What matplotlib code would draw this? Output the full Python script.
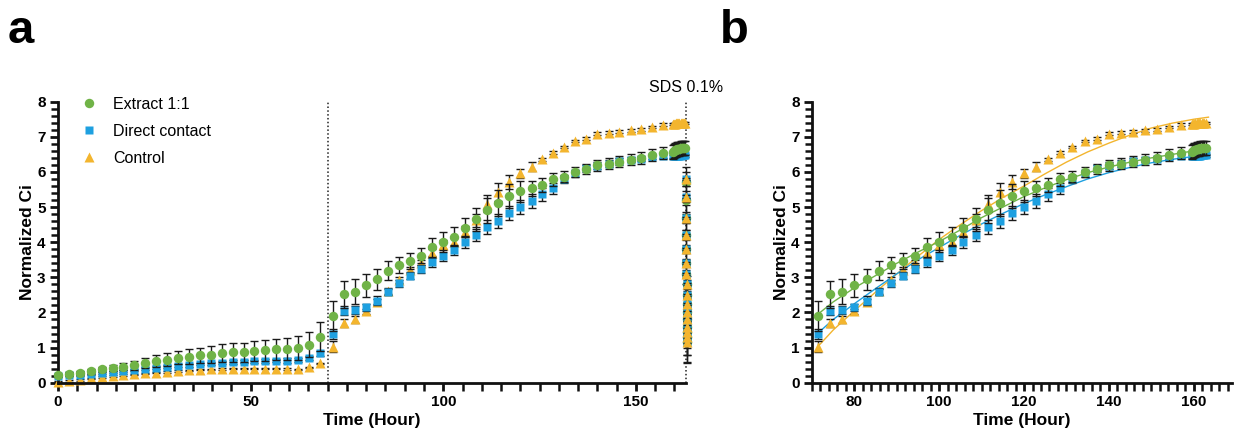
import matplotlib
matplotlib.use('Agg')
import matplotlib.pyplot as plt
from matplotlib.ticker import MultipleLocator
from matplotlib.lines import Line2D

plt.rcParams['font.family'] = ['Liberation Sans', 'DejaVu Sans']

# ---------------- data ----------------
labels = ['Extract 1:1', 'Direct contact', 'Control']
colors = ['#70b347', '#1ea0e0', '#f3b52e']
markers = ['o', 's', '^']

# before treatment (0-70 h)
time_pre = [0, 2.8, 5.7, 8.5, 11.3, 14.2, 17.0, 19.8, 22.7, 25.5, 28.3, 31.2, 34.0,
            36.8, 39.7, 42.5, 45.3, 48.2, 51.0, 53.8, 56.7, 59.5, 62.3, 65.2, 68.0]
extract_pre = [0.21, 0.25, 0.28, 0.33, 0.38, 0.42, 0.46, 0.49, 0.57, 0.62, 0.66, 0.71, 0.74,
               0.78, 0.80, 0.84, 0.86, 0.87, 0.90, 0.92, 0.95, 0.96, 0.99, 1.08, 1.31]
extract_pre_err = [0.04, 0.05, 0.06, 0.07, 0.08, 0.09, 0.11, 0.13, 0.14, 0.16, 0.18, 0.19, 0.21,
                   0.22, 0.24, 0.25, 0.26, 0.27, 0.28, 0.29, 0.30, 0.31, 0.33, 0.36, 0.41]
direct_pre = [0.19, 0.21, 0.23, 0.26, 0.29, 0.31, 0.34, 0.37, 0.40, 0.43, 0.46, 0.48, 0.50,
              0.53, 0.55, 0.57, 0.59, 0.60, 0.61, 0.62, 0.63, 0.63, 0.64, 0.70, 0.84]
direct_pre_err = [0.03, 0.03, 0.03, 0.03, 0.03, 0.03, 0.03, 0.03, 0.04, 0.04, 0.04, 0.04, 0.04,
                  0.04, 0.04, 0.05, 0.05, 0.05, 0.05, 0.05, 0.05, 0.06, 0.06, 0.06, 0.07]
control_pre = [0.03, 0.05, 0.08, 0.12, 0.16, 0.19, 0.22, 0.24, 0.27, 0.29, 0.31, 0.33, 0.35,
               0.37, 0.38, 0.39, 0.40, 0.40, 0.40, 0.40, 0.40, 0.39, 0.38, 0.44, 0.55]
control_pre_err = [0.02] * 25

# after treatment (70-163 h)
time_post = [71.4, 74.3, 77.1, 80.0, 82.9, 85.7, 88.6, 91.4, 94.3, 97.1, 100.0, 102.9, 105.7,
             108.6, 111.4, 114.3, 117.1, 120.0, 122.9, 125.7, 128.6, 131.4, 134.3, 137.1, 140.0,
             142.9, 145.7, 148.6, 151.4, 154.3, 157.1,
             159.5, 159.8, 160.1, 160.4, 160.7, 161.0, 161.3, 161.6, 161.9, 162.2, 162.5, 162.8]
extract_post = [1.90, 2.52, 2.59, 2.77, 2.95, 3.19, 3.35, 3.47, 3.62, 3.85, 4.00, 4.16, 4.41,
                4.65, 4.91, 5.12, 5.31, 5.45, 5.53, 5.64, 5.79, 5.86, 6.00, 6.08, 6.19,
                6.24, 6.29, 6.35, 6.41, 6.48, 6.54,
                6.58, 6.60, 6.62, 6.63, 6.64, 6.65, 6.66, 6.67, 6.67, 6.68, 6.68, 6.69]
extract_post_err = [0.42, 0.38, 0.35, 0.32, 0.30, 0.27, 0.24, 0.22, 0.22, 0.27, 0.28, 0.28, 0.27,
                    0.32, 0.36, 0.38, 0.35, 0.30, 0.22, 0.20, 0.18, 0.16, 0.15, 0.14, 0.15,
                    0.15, 0.15, 0.16, 0.17, 0.17, 0.18,
                    0.20, 0.20, 0.20, 0.20, 0.20, 0.20, 0.20, 0.20, 0.20, 0.20, 0.20, 0.20]
direct_post = [1.39, 2.05, 2.07, 2.15, 2.34, 2.59, 2.83, 3.05, 3.24, 3.43, 3.62, 3.78, 4.00,
               4.20, 4.44, 4.61, 4.82, 5.01, 5.18, 5.36, 5.53, 5.80, 5.96, 6.10, 6.17,
               6.24, 6.31, 6.35, 6.38, 6.43, 6.45,
               6.44, 6.44, 6.45, 6.45, 6.45, 6.46, 6.46, 6.46, 6.47, 6.47, 6.47, 6.47]
direct_post_err = [0.15, 0.13, 0.12, 0.10, 0.12, 0.10, 0.10, 0.10, 0.12, 0.13, 0.15, 0.15, 0.17,
                   0.18, 0.20, 0.20, 0.20, 0.20, 0.20, 0.18, 0.15, 0.12, 0.10, 0.10, 0.10,
                   0.10, 0.10, 0.08, 0.08, 0.07, 0.06,
                   0.05, 0.05, 0.05, 0.05, 0.05, 0.05, 0.05, 0.05, 0.05, 0.05, 0.05, 0.05]
control_post = [1.03, 1.70, 1.81, 2.03, 2.31, 2.60, 2.92, 3.20, 3.42, 3.70, 3.93, 4.00, 4.30,
                4.62, 5.10, 5.43, 5.72, 5.96, 6.15, 6.36, 6.55, 6.71, 6.88, 6.95, 7.09,
                7.12, 7.15, 7.19, 7.22, 7.28, 7.34,
                7.36, 7.37, 7.37, 7.38, 7.38, 7.38, 7.39, 7.39, 7.39, 7.40, 7.40, 7.40]
control_post_err = [0.15, 0.12, 0.10, 0.08, 0.08, 0.08, 0.08, 0.08, 0.08, 0.10, 0.12, 0.12, 0.15,
                    0.18, 0.25, 0.25, 0.20, 0.12, 0.12, 0.04, 0.04, 0.04, 0.04, 0.04, 0.04,
                    0.04, 0.04, 0.04, 0.04, 0.04, 0.04,
                    0.03, 0.03, 0.03, 0.03, 0.03, 0.03, 0.03, 0.03, 0.03, 0.03, 0.03, 0.03]

# after SDS 0.1% (163 h)
time_sds = [163.0, 163.02, 163.04, 163.06, 163.08, 163.10, 163.12, 163.14,
            163.16, 163.18, 163.20, 163.22, 163.24, 163.26, 163.28, 163.30]
extract_sds = [5.7, 5.2, 4.7, 4.2, 3.8, 3.4, 3.1, 2.8, 2.5, 2.25, 2.0, 1.8, 1.6, 1.45, 1.3, 1.15]
extract_sds_err = [0.45, 0.40, 0.35, 0.35, 0.30, 0.30, 0.30, 0.25, 0.25, 0.25, 0.30, 0.35,
                   0.40, 0.45, 0.50, 0.55]
direct_sds = [5.8, 5.3, 4.7, 4.2, 3.8, 3.4, 3.1, 2.8, 2.5, 2.25, 2.0, 1.8, 1.6, 1.45, 1.3, 1.15]
direct_sds_err = [0.20, 0.15, 0.15, 0.15, 0.12, 0.12, 0.12, 0.12, 0.12, 0.15, 0.20, 0.25,
                  0.30, 0.40, 0.50, 0.58]
control_sds = [5.8, 5.3, 4.7, 4.2, 3.8, 3.4, 3.1, 2.8, 2.5, 2.25, 2.0, 1.8, 1.6, 1.45, 1.3, 1.15]
control_sds_err = [0.03] * 16

# fitted curves shown in panel b
fit_time = [71.4, 75, 80, 85, 90, 95, 100, 105, 110, 115, 120, 125, 130, 135, 140, 145, 150,
            155, 160, 163.5]
extract_fit = [1.95, 2.30, 2.70, 3.05, 3.40, 3.72, 4.02, 4.35, 4.70, 5.00, 5.30, 5.55, 5.78,
               5.98, 6.14, 6.28, 6.40, 6.50, 6.60, 6.65]
direct_fit = [1.41, 1.80, 2.25, 2.68, 3.10, 3.50, 3.85, 4.20, 4.52, 4.82, 5.10, 5.35, 5.58,
              5.80, 5.98, 6.13, 6.26, 6.36, 6.44, 6.48]
control_fit = [1.03, 1.50, 2.05, 2.58, 3.10, 3.60, 4.08, 4.50, 4.90, 5.27, 5.60, 5.95, 6.28,
               6.57, 6.82, 7.05, 7.25, 7.39, 7.50, 7.56]

treatment_time = 70
sds_time = 163

# ---------------- figure ----------------
fig = plt.figure(figsize=(12.37, 4.36), dpi=100)
ax_a = fig.add_axes([58 / 1237, 53.3 / 436, 628 / 1237, 281 / 436])
ax_b = fig.add_axes([812 / 1237, 53.3 / 436, 419.8 / 1237, 281 / 436])

ecol = '#1a1a1a'
ms = {'o': 6.8, 's': 6.3, '^': 6.6}


def draw_series(ax, t, y, e, idx, z):
    ax.errorbar(t, y, yerr=e, fmt='none', ecolor=ecol, elinewidth=1.0, capsize=2.6,
                capthick=1.0, zorder=z, clip_on=False)
    ax.plot(t, y, ls='none', marker=markers[idx], color=colors[idx], ms=ms[markers[idx]],
            mec='none', zorder=z + 0.05, clip_on=False)


# panel a
series_a = [
    (time_pre + time_post, extract_pre + extract_post, extract_pre_err + extract_post_err),
    (time_pre + time_post, direct_pre + direct_post, direct_pre_err + direct_post_err),
    (time_pre + time_post, control_pre + control_post, control_pre_err + control_post_err),
]
zs = [4, 3, 2]
for idx in [2, 1, 0]:
    t, y, e = series_a[idx]
    draw_series(ax_a, t, y, e, idx, zs[idx])

sds_series = [(extract_sds, extract_sds_err), (direct_sds, direct_sds_err),
              (control_sds, control_sds_err)]
for idx, z in [(0, 5), (1, 5.2), (2, 5.4)]:
    y, e = sds_series[idx]
    draw_series(ax_a, time_sds, y, e, idx, z)

for xv in [treatment_time, sds_time]:
    ax_a.plot([xv, xv], [0, 8], ls=(0, (1, 1.5)), color='#222222', lw=1.1, zorder=1,
              clip_on=False)
ax_a.text(sds_time, 8.4, 'SDS 0.1%', ha='center', va='center', fontsize=11.5)

ax_a.set_xlim(0, 163)
ax_a.xaxis.set_major_locator(MultipleLocator(50))
ax_a.xaxis.set_minor_locator(MultipleLocator(5))

handles = [Line2D([], [], ls='none', marker=markers[i], color=colors[i],
                  ms=ms[markers[i]], mec='none') for i in range(3)]
ax_a.legend(handles, labels, loc='upper left', bbox_to_anchor=(0.027, 1.04), frameon=False,
            fontsize=11.5, handlelength=1.0, handletextpad=1.0, labelspacing=0.75,
            borderaxespad=0)

# panel b
series_b = [(extract_post, extract_post_err, extract_fit),
            (direct_post, direct_post_err, direct_fit),
            (control_post, control_post_err, control_fit)]
for idx in [2, 1, 0]:
    y, e, f = series_b[idx]
    ax_b.plot(fit_time, f, color=colors[idx], lw=1.0, zorder=1.5)
for idx in [2, 1, 0]:
    y, e, f = series_b[idx]
    draw_series(ax_b, time_post, y, e, idx, zs[idx])

ax_b.set_xlim(70, 169)
ax_b.xaxis.set_major_locator(MultipleLocator(20))
ax_b.xaxis.set_minor_locator(MultipleLocator(2))

for ax in (ax_a, ax_b):
    ax.set_ylim(0, 8)
    ax.yaxis.set_major_locator(MultipleLocator(1))
    ax.yaxis.set_minor_locator(MultipleLocator(0.2))
    for s in ['top', 'right']:
        ax.spines[s].set_visible(False)
    for s in ['left', 'bottom']:
        ax.spines[s].set_linewidth(2.0)
        ax.spines[s].set_color('#111111')
    ax.tick_params(axis='both', which='major', direction='out', length=6, width=2.0,
                   color='#111111', labelsize=11, pad=3)
    ax.tick_params(axis='both', which='minor', direction='out', length=5, width=1.8,
                   color='#111111')
    ax.tick_params(axis='x', which='minor', length=6)
    for lab in ax.get_xticklabels() + ax.get_yticklabels():
        lab.set_fontweight('bold')
    ax.set_xlabel('Time (Hour)', fontsize=12.5, fontweight='bold', labelpad=3)
    ax.set_ylabel('Normalized Ci', fontsize=12.5, fontweight='bold', labelpad=1.5)

fig.text(8 / 1237, 1 - 43 / 436, 'a', fontsize=34, fontweight='bold', ha='left',
         va='baseline')
fig.text(720 / 1237, 1 - 43 / 436, 'b', fontsize=34, fontweight='bold', ha='left',
         va='baseline')

fig.savefig('out.png', dpi=100)
